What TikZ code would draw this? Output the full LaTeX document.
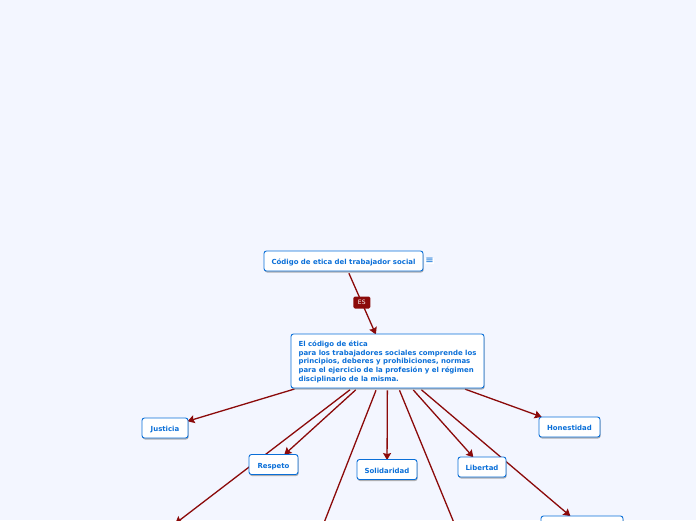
\documentclass[tikz,border=0pt]{standalone}
\usepackage{xcolor}
\usepackage{fontspec}
\setmainfont{DejaVu Sans}
\usetikzlibrary{shadows,backgrounds,arrows.meta}
\definecolor{pagebg}{HTML}{F3F6FF}
\definecolor{nodeblue}{HTML}{0A6FD8}
\definecolor{darkred}{HTML}{8B0A0A}
\tikzset{
	mapnode/.style = {align=left, inner sep=0pt, text depth=0pt, rounded corners=2.5pt, draw=nodeblue, line width=0.9pt, fill=white, text=nodeblue, font=\fontsize{6.95}{8.7}\selectfont\bfseries, drop shadow={shadow xshift=0.6pt, shadow yshift=-1.5pt, opacity=0.6}},
	leafnode/.style = {mapnode, text height=7.5pt, minimum height=20pt},
	link/.style = {draw=darkred, line width=1.3pt, -{Stealth[length=7pt, width=8pt, inset=1pt]}, shorten <=2pt, shorten >=-1pt},
	eslabel/.style = {fill=darkred, text=white, rounded corners=1.5pt, inner sep=0pt, minimum width=17pt, minimum height=12pt, font=\fontsize{6}{6}\selectfont},
}
\begin{document}
\begin{tikzpicture}[x=1pt, y=-1pt]
	\useasboundingbox (0, 0) rectangle (696, 520);

	\node[leafnode, minimum width=159pt] (codigo) at (343.5, 261) {Código de etica del trabajador social};
	\node[fill=white, inner sep=0.5pt, text=nodeblue, font=\fontsize{10}{10}\selectfont] (menu) at (429.5, 261) {≡};
	\node[mapnode, minimum width=193pt, minimum height=54pt] (etica) at (387.5, 361) {El código de ética\\para los trabajadores sociales comprende los\\principios, deberes y prohibiciones, normas\\para el ejercicio de la profesión y el régimen\\disciplinario de la misma.};

	\node[leafnode, minimum width=46pt] (justicia) at (165, 428) {Justicia};
	\node[leafnode, minimum width=49pt] (respeto) at (273.5, 464.5) {Respeto};
	\node[leafnode, minimum width=60pt] (solidaridad) at (387, 469.5) {Solidaridad};
	\node[leafnode, minimum width=48pt] (libertad) at (482, 467) {Libertad};
	\node[leafnode, minimum width=61pt] (honestidad) at (569.5, 427) {Honestidad};
	\node[leafnode, minimum width=82pt] (inferior) at (582, 526) {};

	\coordinate (salidaA) at (176, 523);
	\coordinate (salidaB) at (320, 533);
	\coordinate (salidaC) at (459, 535);

	\begin{pgfonlayer}{background}
		\fill[pagebg] (0, 0) rectangle (696, 520);
		\path (codigo) edge[link] node[eslabel, pos=0.5] (es) {ES} (etica);
		\path (etica) edge[link] (justicia);
		\path (etica) edge[link] (respeto);
		\path (etica) edge[link] (solidaridad);
		\path (etica) edge[link] (libertad);
		\path (etica) edge[link] (honestidad);
		\path (etica) edge[link] (inferior);
		\path (etica) edge[link] (salidaA);
		\path (etica) edge[link] (salidaB);
		\path (etica) edge[link] (salidaC);
	\end{pgfonlayer}
\end{tikzpicture}
\end{document}
